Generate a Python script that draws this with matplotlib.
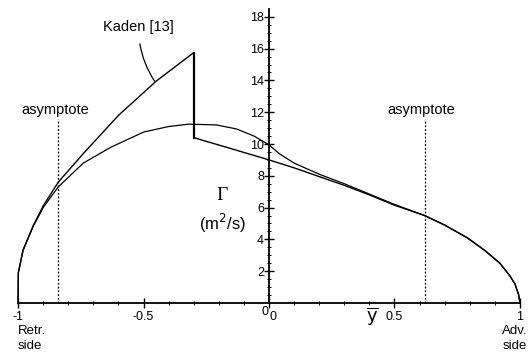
import matplotlib.pyplot as plt
from matplotlib.ticker import MultipleLocator, FixedLocator

plt.rcParams['font.family'] = ['Liberation Sans', 'DejaVu Sans']

# present (smooth) circulation distribution
smooth_x = [-1.0, -0.999, -0.98, -0.94, -0.90, -0.84, -0.74, -0.63, -0.50, -0.40,
            -0.32, -0.21, -0.13, -0.06, 0.0, 0.04, 0.10, 0.20, 0.30, 0.40, 0.50,
            0.62, 0.70, 0.79, 0.86, 0.92, 0.96, 0.98, 0.995, 1.0]
smooth_y = [0.0, 1.9, 3.3, 4.8, 6.0, 7.3, 8.8, 9.8, 10.75, 11.1,
            11.25, 11.2, 10.95, 10.5, 9.95, 9.4, 8.8, 8.1, 7.5, 6.85, 6.2,
            5.5, 4.9, 4.1, 3.3, 2.5, 1.7, 1.2, 0.5, 0.0]

# Kaden [13]
kaden_x = [-1.0, -0.999, -0.98, -0.94, -0.90, -0.84, -0.74, -0.60, -0.45, -0.30,
           -0.30, -0.16, 0.0, 0.10, 0.20, 0.30, 0.40, 0.50, 0.62, 0.70, 0.79,
           0.86, 0.92, 0.96, 0.98, 0.995, 1.0]
kaden_y = [0.0, 1.9, 3.35, 4.85, 6.1, 7.6, 9.4, 11.8, 13.95, 15.75,
           10.4, 9.75, 9.0, 8.5, 7.95, 7.4, 6.8, 6.15, 5.5, 4.9, 4.1,
           3.3, 2.5, 1.7, 1.2, 0.5, 0.0]

asymptotes = [-0.84, 0.62]
x_ticks = [-1, -0.5, 0, 0.5, 1]
x_labels = ['-1', '-0.5', '0', '0.5', '1']
y_ticks = [2, 4, 6, 8, 10, 12, 14, 16, 18]

fig = plt.figure(figsize=(5.28, 3.64), dpi=100)
ax = fig.add_axes([0, 0, 1, 1])
ax.set_xlim(-1.072, 1.032)
ax.set_ylim(-3.84, 19.06)

ax.plot(smooth_x, smooth_y, color='black', lw=0.9)
ax.plot(kaden_x, kaden_y, color='black', lw=1.0)
ax.plot([kaden_x[9], kaden_x[10]], [kaden_y[9], kaden_y[10]], color='black', lw=1.6)

for a in asymptotes:
    ax.plot([a, a], [0, 11.6], color='black', lw=0.9, ls=(0, (1.5, 1.5)))
    ax.text(a - 0.013, 12.15, 'asymptote', ha='center', va='center', fontsize=10.5)

ax.annotate('Kaden [13]', xy=(-0.456, 13.95), xytext=(-0.52, 17.35),
            ha='center', va='center', fontsize=10.5,
            arrowprops=dict(arrowstyle='-', color='black', lw=0.9,
                            shrinkA=5, shrinkB=0,
                            connectionstyle='arc3,rad=0.15'))

# axes through the origin
for s in ['top', 'right']:
    ax.spines[s].set_visible(False)
ax.spines['left'].set_position(('data', 0))
ax.spines['bottom'].set_position(('data', 0))
ax.spines['left'].set_bounds(0, 18.5)
ax.spines['bottom'].set_bounds(-1, 1)
ax.spines['left'].set_linewidth(1.3)
ax.spines['bottom'].set_linewidth(1.3)

ax.set_xticks(x_ticks)
ax.set_xticklabels(x_labels)
ax.set_yticks(y_ticks)
ax.set_yticklabels([str(v) for v in y_ticks])
ax.yaxis.set_minor_locator(FixedLocator([k * 0.5 for k in range(1, 37)]))
ax.xaxis.set_minor_locator(MultipleLocator(0.1))
ax.tick_params(axis='both', which='major', direction='inout', length=7,
               width=1.0, labelsize=9, pad=1)
ax.tick_params(axis='both', which='minor', direction='inout', length=3, width=0.7)
ax.tick_params(axis='x', which='major', pad=2)
ax.tick_params(axis='y', which='major', pad=0)
ax.get_xticklabels()[2].set_ha('left')
ax.text(-0.004, -0.6, '0', ha='right', va='center', fontsize=9)

ax.text(-0.187, 6.75, 'Γ', ha='center', va='center', fontsize=14,
        family='Liberation Serif')
ax.text(-0.187, 5.0, '(m$^2$/s)', ha='center', va='center', fontsize=12)
ax.text(0.41, -0.85, r'$\overline{\mathrm{y}}$', ha='center', va='center', fontsize=13)
ax.text(-1.0, -1.75, 'Retr.', ha='left', va='center', fontsize=9.5)
ax.text(-1.0, -2.7, 'side', ha='left', va='center', fontsize=9.5)
ax.text(1.03, -1.75, 'Adv.', ha='right', va='center', fontsize=9.5)
ax.text(1.03, -2.7, 'side', ha='right', va='center', fontsize=9.5)

fig.savefig('out.png', dpi=100)
